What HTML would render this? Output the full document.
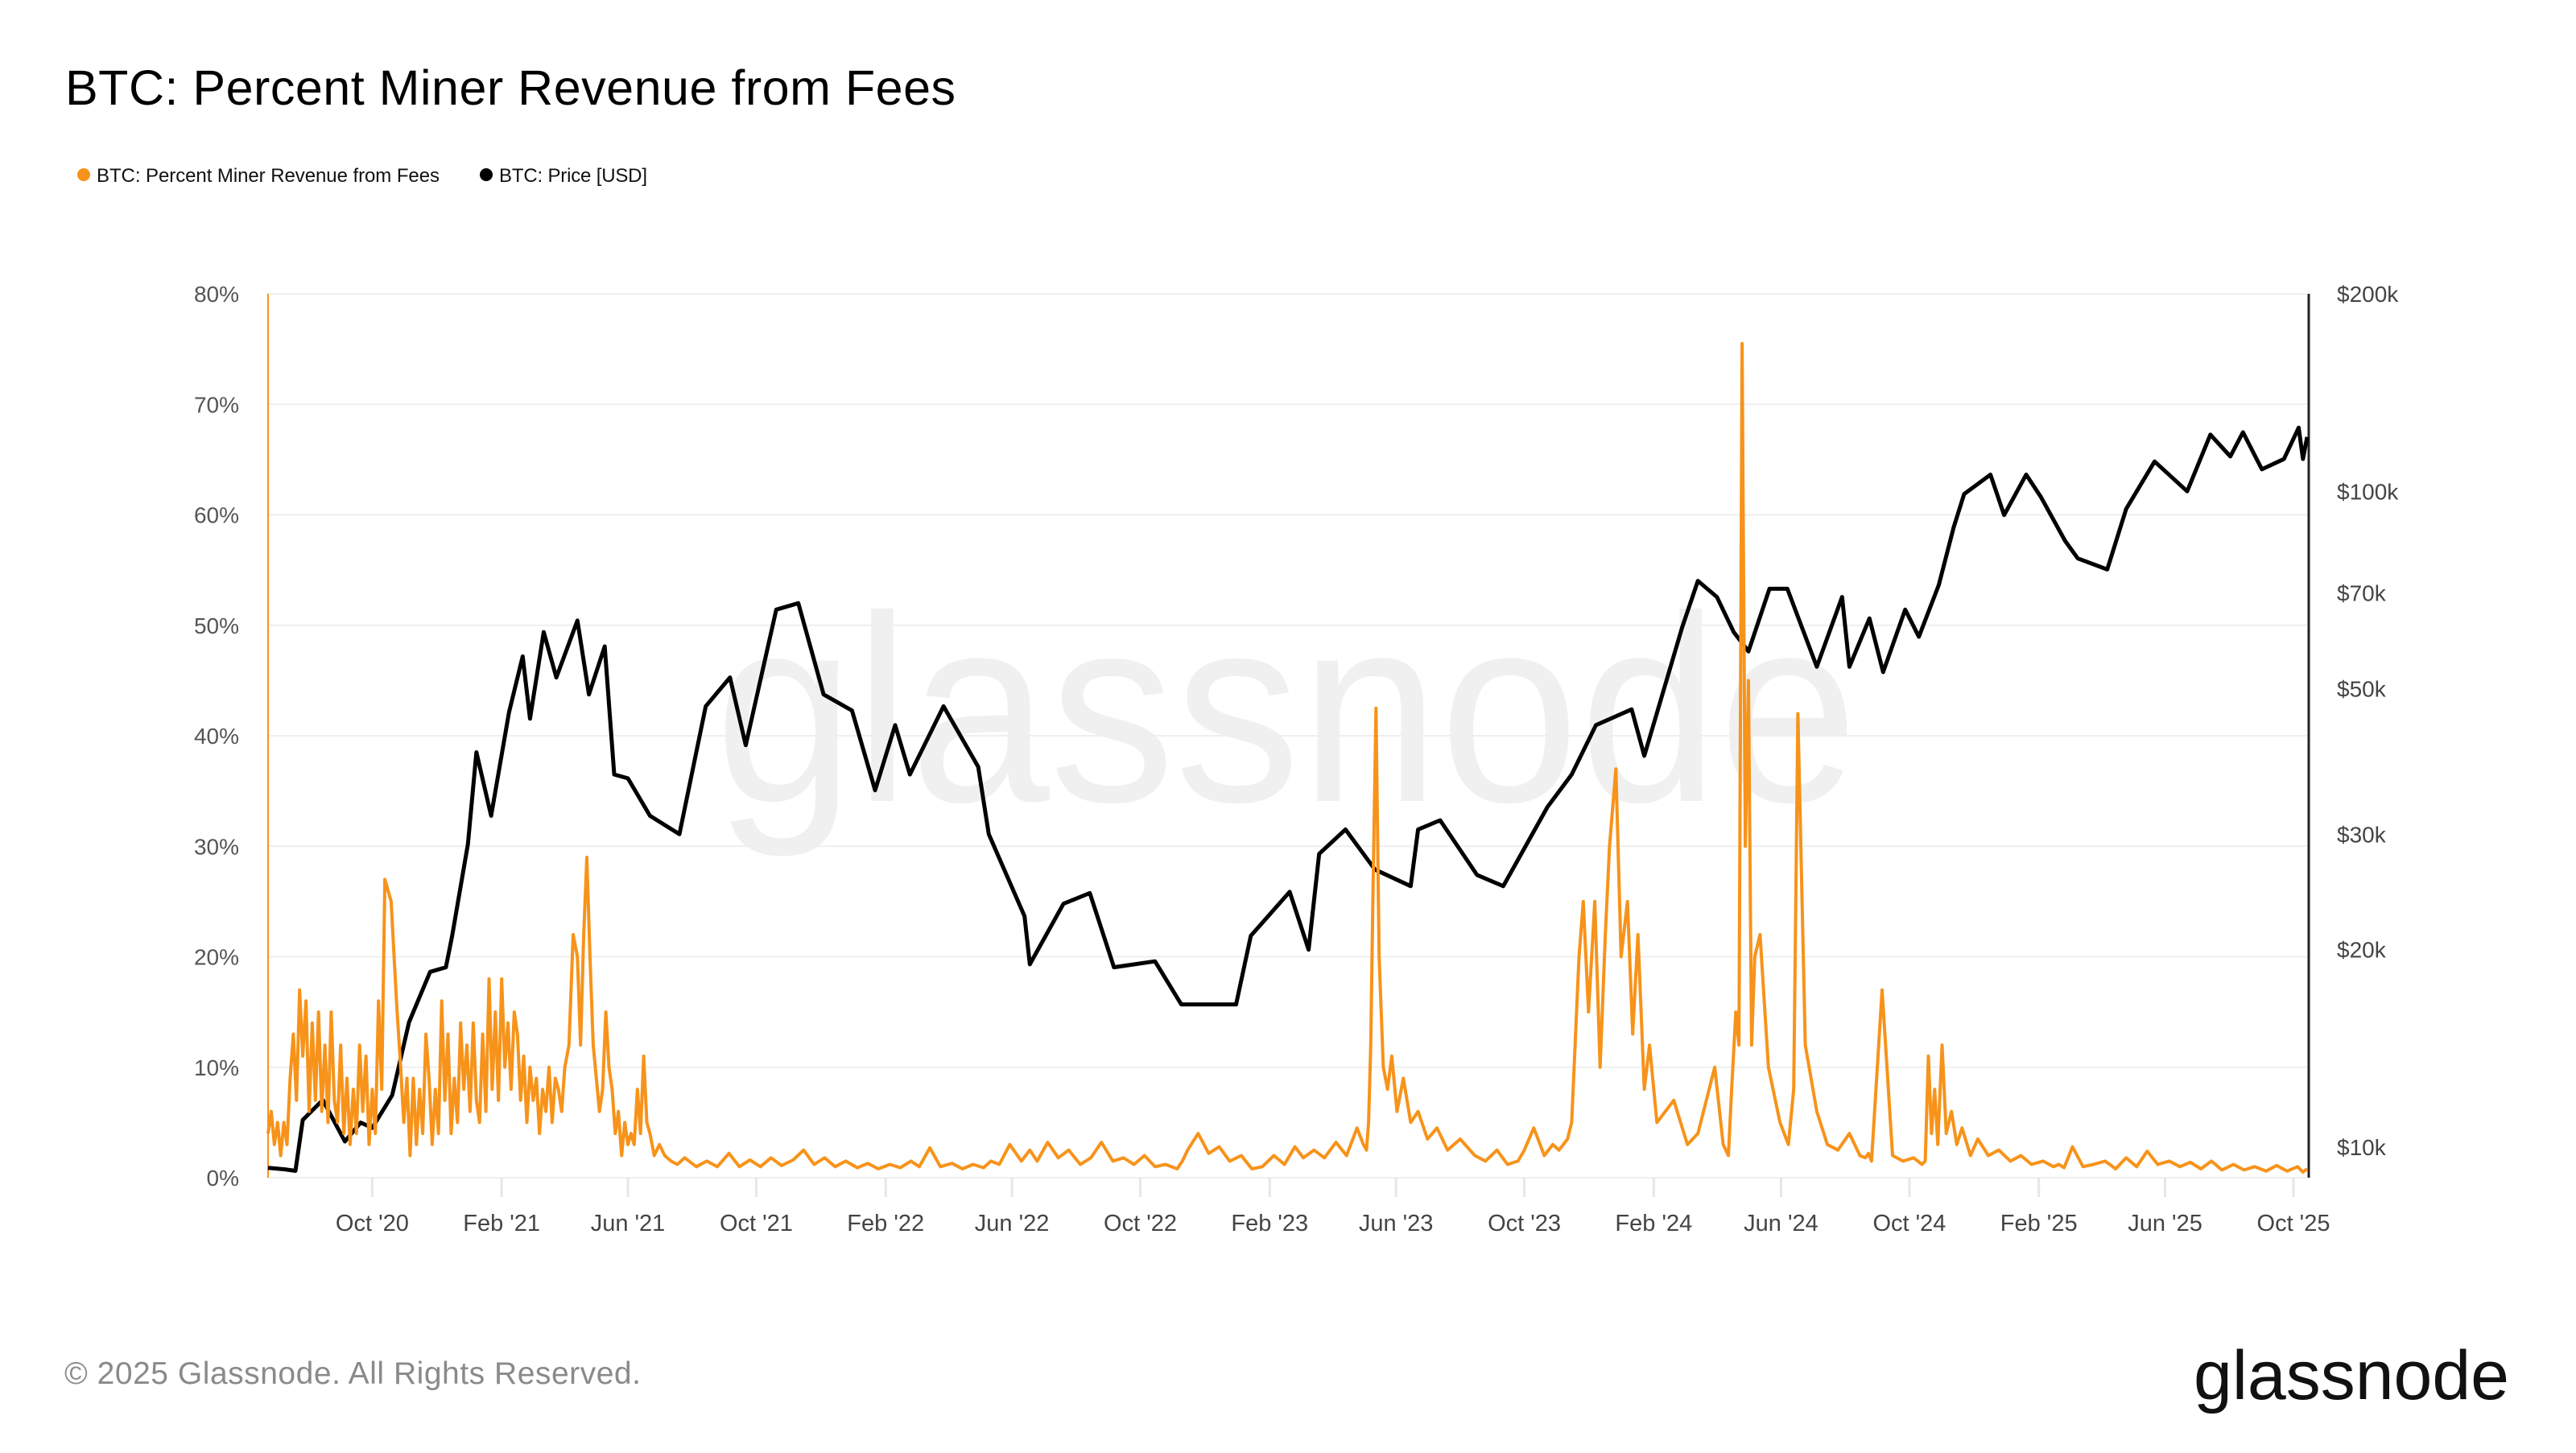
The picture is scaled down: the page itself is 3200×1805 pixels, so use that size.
<!DOCTYPE html>
<html><head><meta charset="utf-8">
<style>
html,body{margin:0;padding:0;background:#fff;}
body{width:3200px;height:1800px;overflow:hidden;font-family:"Liberation Sans",sans-serif;}
</style></head>
<body>
<svg id="chart" width="3200" height="1800" viewBox="0 0 3200 1800" xmlns="http://www.w3.org/2000/svg" font-family="Liberation Sans, sans-serif">
<text x="81" y="130" font-size="61" fill="#000" textLength="1106">BTC: Percent Miner Revenue from Fees</text>
<g>
<g><circle cx="104" cy="217" r="8" fill="#f7931a"/><text x="120" y="226" font-size="24" fill="#111" textLength="426">BTC: Percent Miner Revenue from Fees</text></g>
<g><circle cx="604" cy="217" r="8" fill="#000"/><text x="620" y="226" font-size="24" fill="#111" textLength="184">BTC: Price [USD]</text></g>
</g>
<text x="888" y="995" font-size="330" fill="#f0f0f0" textLength="1420" lengthAdjust="spacingAndGlyphs">glassnode</text>
<g id="grid"></g>
<g id="axes"></g>
<g id="series"></g>
<text x="80" y="1719" font-size="39" fill="#8a8a8a" textLength="716">© 2025 Glassnode. All Rights Reserved.</text>
<text x="2725" y="1738" font-size="86" fill="#111" textLength="392" lengthAdjust="spacingAndGlyphs">glassnode</text>
</svg>
<script>
const feeDates = ["2020-06-24","2020-06-27","2020-06-30","2020-07-03","2020-07-06","2020-07-09","2020-07-12","2020-07-15","2020-07-18","2020-07-21","2020-07-24","2020-07-27","2020-07-30","2020-08-02","2020-08-05","2020-08-08","2020-08-11","2020-08-14","2020-08-17","2020-08-20","2020-08-23","2020-08-26","2020-08-29","2020-09-01","2020-09-04","2020-09-07","2020-09-10","2020-09-13","2020-09-16","2020-09-19","2020-09-22","2020-09-25","2020-09-28","2020-10-01","2020-10-04","2020-10-07","2020-10-10","2020-10-13","2020-10-19","2020-10-24","2020-10-28","2020-10-31","2020-11-03","2020-11-06","2020-11-09","2020-11-12","2020-11-15","2020-11-18","2020-11-21","2020-11-24","2020-11-27","2020-11-30","2020-12-03","2020-12-06","2020-12-09","2020-12-12","2020-12-15","2020-12-18","2020-12-21","2020-12-24","2020-12-27","2020-12-30","2021-01-02","2021-01-05","2021-01-08","2021-01-11","2021-01-14","2021-01-17","2021-01-20","2021-01-23","2021-01-26","2021-01-29","2021-02-01","2021-02-04","2021-02-07","2021-02-10","2021-02-13","2021-02-16","2021-02-19","2021-02-22","2021-02-25","2021-02-28","2021-03-03","2021-03-06","2021-03-09","2021-03-12","2021-03-15","2021-03-18","2021-03-21","2021-03-24","2021-03-27","2021-03-30","2021-04-02","2021-04-06","2021-04-10","2021-04-14","2021-04-17","2021-04-20","2021-04-23","2021-04-26","2021-04-29","2021-05-02","2021-05-05","2021-05-08","2021-05-11","2021-05-14","2021-05-17","2021-05-20","2021-05-23","2021-05-26","2021-05-29","2021-06-01","2021-06-04","2021-06-07","2021-06-10","2021-06-13","2021-06-16","2021-06-19","2021-06-22","2021-06-26","2021-07-01","2021-07-06","2021-07-12","2021-07-18","2021-07-25","2021-08-05","2021-08-15","2021-08-25","2021-09-05","2021-09-15","2021-09-25","2021-10-05","2021-10-15","2021-10-25","2021-11-05","2021-11-15","2021-11-25","2021-12-05","2021-12-15","2021-12-25","2022-01-05","2022-01-15","2022-01-25","2022-02-05","2022-02-15","2022-02-25","2022-03-05","2022-03-15","2022-03-25","2022-04-05","2022-04-15","2022-04-25","2022-05-05","2022-05-12","2022-05-20","2022-05-30","2022-06-10","2022-06-18","2022-06-25","2022-07-05","2022-07-15","2022-07-25","2022-08-05","2022-08-15","2022-08-25","2022-09-05","2022-09-15","2022-09-25","2022-10-05","2022-10-15","2022-10-25","2022-11-05","2022-11-10","2022-11-15","2022-11-25","2022-12-05","2022-12-15","2022-12-25","2023-01-05","2023-01-15","2023-01-25","2023-02-05","2023-02-15","2023-02-25","2023-03-05","2023-03-15","2023-03-25","2023-04-05","2023-04-15","2023-04-25","2023-05-01","2023-05-04","2023-05-06","2023-05-08","2023-05-10","2023-05-13","2023-05-16","2023-05-20","2023-05-24","2023-05-28","2023-06-02","2023-06-08","2023-06-15","2023-06-22","2023-07-01","2023-07-10","2023-07-20","2023-08-01","2023-08-15","2023-08-25","2023-09-05","2023-09-15","2023-09-25","2023-10-01","2023-10-10","2023-10-20","2023-10-28","2023-11-03","2023-11-11","2023-11-15","2023-11-22","2023-11-26","2023-12-01","2023-12-07","2023-12-12","2023-12-17","2023-12-21","2023-12-27","2024-01-01","2024-01-07","2024-01-12","2024-01-17","2024-01-23","2024-01-28","2024-02-04","2024-02-20","2024-03-04","2024-03-14","2024-03-30","2024-04-07","2024-04-12","2024-04-15","2024-04-19","2024-04-22","2024-04-25","2024-04-28","2024-05-01","2024-05-04","2024-05-07","2024-05-12","2024-05-20","2024-05-31","2024-06-08","2024-06-13","2024-06-17","2024-06-24","2024-07-05","2024-07-15","2024-07-25","2024-08-05","2024-08-15","2024-08-20","2024-08-23","2024-08-26","2024-09-05","2024-09-15","2024-09-25","2024-10-05","2024-10-13","2024-10-16","2024-10-19","2024-10-22","2024-10-25","2024-10-28","2024-11-01","2024-11-05","2024-11-10","2024-11-15","2024-11-20","2024-11-28","2024-12-05","2024-12-15","2024-12-25","2025-01-05","2025-01-15","2025-01-25","2025-02-05","2025-02-15","2025-02-20","2025-02-25","2025-03-05","2025-03-15","2025-03-25","2025-04-05","2025-04-15","2025-04-25","2025-05-05","2025-05-15","2025-05-25","2025-06-05","2025-06-15","2025-06-25","2025-07-05","2025-07-15","2025-07-25","2025-08-05","2025-08-15","2025-08-25","2025-09-05","2025-09-15","2025-09-25","2025-10-05","2025-10-10","2025-10-14"];
const feeValues = [4,6,3,5,2,5,3,9,13,7,17,11,16,6,14,7,15,6,12,5,15,7,5,12,4,9,3,8,4,12,6,11,3,8,4,16,8,27,25,16,10,5,9,2,9,3,8,4,13,9,3,8,4,16,7,13,4,9,5,14,8,12,6,14,7,5,13,6,18,8,15,7,18,10,14,8,15,13,7,11,5,10,7,9,4,8,6,10,5,9,8,6,10,12,22,20,12,22,29,20,12,9,6,8,15,10,8,4,6,2,5,3,4,3,8,4,11,5,4,2,3,2,1.5,1.2,1.8,1.0,1.5,1.0,2.2,1.0,1.6,1.0,1.8,1.1,1.6,2.5,1.2,1.8,1.0,1.5,0.9,1.3,0.8,1.2,0.9,1.5,1.0,2.7,1.0,1.3,0.8,1.2,0.9,1.5,1.2,3.0,1.5,2.5,1.5,3.2,1.8,2.5,1.2,1.8,3.2,1.5,1.8,1.2,2.0,1.0,1.2,0.8,1.5,2.5,4.0,2.2,2.8,1.5,2.0,0.8,1.0,2.0,1.2,2.8,1.8,2.5,1.8,3.2,2.0,4.5,3.0,2.5,5,12,25,42.5,20,10,8,11,6,9,5,6,3.5,4.5,2.5,3.5,2,1.5,2.5,1.2,1.5,2.5,4.5,2,3,2.5,3.5,5,20,25,15,25,10,22,30,37,20,25,13,22,8,12,5,7,3,4,10,3,2,8,15,12,75.5,30,45,12,20,22,10,5,3,8,42,12,6,3,2.5,4,2,1.8,2.2,1.5,17,2,1.5,1.8,1.2,1.5,11,4,8,3,12,4,6,3,4.5,2,3.5,2,2.5,1.5,2,1.2,1.5,1.0,1.2,0.9,2.8,1.0,1.2,1.5,0.8,1.8,1.0,2.4,1.2,1.5,1.0,1.4,0.8,1.5,0.7,1.2,0.7,1.0,0.6,1.1,0.6,1.0,0.5,0.8,0.5,1.3];
const priceDates = ["2020-06-24","2020-07-10","2020-07-20","2020-07-27","2020-08-15","2020-09-05","2020-09-20","2020-10-01","2020-10-20","2020-11-05","2020-11-25","2020-12-10","2020-12-16","2020-12-31","2021-01-08","2021-01-22","2021-02-08","2021-02-21","2021-02-28","2021-03-13","2021-03-25","2021-04-14","2021-04-25","2021-05-10","2021-05-19","2021-06-01","2021-06-22","2021-07-20","2021-08-14","2021-09-06","2021-09-21","2021-10-20","2021-11-10","2021-12-04","2021-12-31","2022-01-22","2022-02-10","2022-02-24","2022-03-28","2022-04-30","2022-05-10","2022-06-13","2022-06-18","2022-07-20","2022-08-14","2022-09-06","2022-10-15","2022-11-09","2022-12-31","2023-01-14","2023-02-20","2023-03-10","2023-03-20","2023-04-14","2023-05-12","2023-06-15","2023-06-22","2023-07-13","2023-08-17","2023-09-11","2023-10-23","2023-11-15","2023-12-08","2024-01-11","2024-01-23","2024-02-14","2024-02-28","2024-03-14","2024-04-01","2024-04-17","2024-05-01","2024-05-21","2024-06-07","2024-07-05","2024-07-29","2024-08-05","2024-08-24","2024-09-06","2024-09-27","2024-10-10","2024-10-29","2024-11-12","2024-11-22","2024-12-17","2024-12-30","2025-01-20","2025-02-03","2025-02-26","2025-03-10","2025-04-07","2025-04-25","2025-05-22","2025-06-22","2025-07-14","2025-08-02","2025-08-14","2025-09-01","2025-09-22","2025-10-06","2025-10-10","2025-10-14"];
const priceValues = [9300,9250,9200,11000,11800,10200,10900,10700,12000,15500,18500,18800,21000,29000,40000,32000,46000,56000,45000,61000,52000,63500,49000,58000,37000,36500,32000,30000,47000,52000,41000,66000,67500,49000,46300,35000,44000,37000,47000,38000,30000,22500,19000,23500,24400,18800,19200,16500,16500,21000,24500,20000,28000,30500,26500,25000,30500,31500,26000,25000,33000,37000,44000,46500,39500,52000,62000,73000,69000,61000,57000,71000,71000,54000,69000,54000,64000,53000,66000,60000,72000,88000,99000,106000,92000,106000,98000,84000,79000,76000,94000,111000,100000,122000,113000,123000,108000,112000,125000,112000,121000];
const leftTicks = [0,10,20,30,40,50,60,70,80];
const rightTicks = [200000,100000,70000,50000,30000,20000,10000];
const rightTickLabels = ["$200k","$100k","$70k","$50k","$30k","$20k","$10k"];
const xTickDates = ["2020-10-01","2021-02-01","2021-06-01","2021-10-01","2022-02-01","2022-06-01","2022-10-01","2023-02-01","2023-06-01","2023-10-01","2024-02-01","2024-06-01","2024-10-01","2025-02-01","2025-06-01","2025-10-01"];
const xTickLabels = ["Oct '20","Feb '21","Jun '21","Oct '21","Feb '22","Jun '22","Oct '22","Feb '23","Jun '23","Oct '23","Feb '24","Jun '24","Oct '24","Feb '25","Jun '25","Oct '25"];

const NS="http://www.w3.org/2000/svg";
const L=333,R=2866,T=365,B=1463,P10=1425;
const t0=Date.parse("2020-06-24"),t1=Date.parse("2025-10-14");
function xS(d){return L+(Date.parse(d)-t0)/(t1-t0)*(R-L);}
function yL(v){return B-v/80*(B-T);}
function yR(v){return T+Math.log(200000/v)/Math.log(20)*(P10-T);}
function mk(tag,attrs,parent){const e=document.createElementNS(NS,tag);for(const k in attrs)e.setAttribute(k,attrs[k]);parent.appendChild(e);return e;}
const grid=document.getElementById('grid'),axes=document.getElementById('axes'),series=document.getElementById('series');
leftTicks.forEach(v=>{
  const g=mk('line',{x1:L,x2:R,y1:yL(v),y2:yL(v),stroke:'#efefef','stroke-width':2},grid);
  
  
  const t=mk('text',{x:297,y:yL(v)+10,'text-anchor':'end','font-size':28,fill:'#555'},axes);
  t.textContent=v+'%';
  
  
});
rightTicks.forEach((v,i)=>{
  const t=mk('text',{x:2903,y:yR(v)+10,'font-size':28,fill:'#444'},axes);
  t.textContent=rightTickLabels[i];
  
  
});
xTickDates.forEach((d,i)=>{
  const x=xS(d);
  const m=mk('line',{x1:x,x2:x,y1:B,y2:B+24,stroke:'#e6e6e6','stroke-width':3},axes);
  
  
  const t=mk('text',{x:x,y:1529,'text-anchor':'middle','font-size':29,fill:'#444'},axes);
  t.textContent=xTickLabels[i];
  
  
});
const la=mk('line',{x1:L,x2:L,y1:T,y2:B,stroke:'#f7931a','stroke-width':2},axes);


const ra=mk('line',{x1:2868,x2:2868,y1:T,y2:B,stroke:'#222','stroke-width':3},axes);


const pp=priceDates.map((d,i)=>xS(d).toFixed(1)+','+yR(priceValues[i]).toFixed(1)).join(' ');
const pl=mk('polyline',{points:pp,fill:'none',stroke:'#000','stroke-width':5,'stroke-linejoin':'round'},series);


const fp=feeDates.map((d,i)=>xS(d).toFixed(1)+','+yL(feeValues[i]).toFixed(1)).join(' ');
const fl=mk('polyline',{points:fp,fill:'none',stroke:'#f7931a','stroke-width':4,'stroke-linejoin':'round'},series);


</script>
</body></html>
